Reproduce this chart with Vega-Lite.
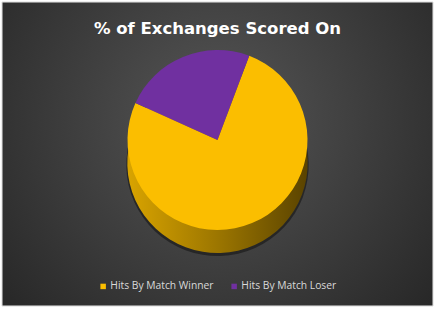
{
  "$schema": "https://vega.github.io/schema/vega-lite/v6.json",
  "width": 431,
  "height": 304,
  "autosize": {"type": "none"},
  "padding": {"left": 2, "top": 2, "right": 8, "bottom": 10},
  "background": "#ffffff",
  "data": {
    "values": [
      {"group": "Hits By Match Winner", "value": 76},
      {"group": "Hits By Match Loser", "value": 24}
    ]
  },
  "title": {
    "text": "% of Exchanges Scored On",
    "offset": -36,
    "anchor": "middle",
    "font": "DejaVu Sans",
    "fontSize": 16.5,
    "fontWeight": "bold",
    "color": "#ffffff"
  },
  "layer": [
    {
      "mark": {
        "type": "rect",
        "stroke": "#e6e6e6",
        "strokeWidth": 1,
        "fill": {
          "gradient": "radial",
          "x1": 0.5, "y1": 0.42, "r1": 0,
          "x2": 0.5, "y2": 0.42, "r2": 0.72,
          "stops": [
            {"offset": 0, "color": "#565656"},
            {"offset": 1, "color": "#232323"}
          ]
        }
      },
      "encoding": {}
    },
    {
      "transform": [{"aggregate": [{"op": "sum", "field": "value", "as": "total"}]}],
      "mark": {"type": "arc", "radius": 91, "yOffset": 11, "fill": "#111111", "opacity": 0.55},
      "encoding": {"theta": {"field": "total", "type": "quantitative"}}
    },
    {
      "transform": [{"aggregate": [{"op": "sum", "field": "value", "as": "total"}]}],
      "mark": {
        "type": "arc",
        "radius": 90,
        "yOffset": 9,
        "fill": {
          "gradient": "linear",
          "x1": 0, "y1": 0, "x2": 1, "y2": 0,
          "stops": [
            {"offset": 0, "color": "#d9a400"},
            {"offset": 0.5, "color": "#9c7600"},
            {"offset": 1, "color": "#5a4300"}
          ]
        }
      },
      "encoding": {"theta": {"field": "total", "type": "quantitative"}}
    },
    {
      "mark": {"type": "arc", "radius": 90, "yOffset": -14},
      "encoding": {
        "theta": {
          "field": "value",
          "type": "quantitative",
          "stack": true,
          "scale": {"range": [0.36, 6.6432]}
        },
        "order": {"field": "value", "sort": "descending"},
        "color": {
          "field": "group",
          "type": "nominal",
          "sort": ["Hits By Match Winner", "Hits By Match Loser"],
          "scale": {"range": ["#fbbe00", "#7030a0"]},
          "legend": {
            "title": null,
            "orient": "none",
            "direction": "horizontal",
            "legendX": 96,
            "legendY": 279,
            "symbolType": "square",
            "symbolSize": 30,
            "symbolStrokeWidth": 0,
            "labelColor": "#d9d9d9",
            "labelFont": "Open Sans",
            "labelFontSize": 10.3,
            "labelOffset": 2,
            "columnPadding": 15,
            "symbolOffset": 0
          }
        }
      }
    }
  ],
  "config": {"view": {"stroke": null}}
}
